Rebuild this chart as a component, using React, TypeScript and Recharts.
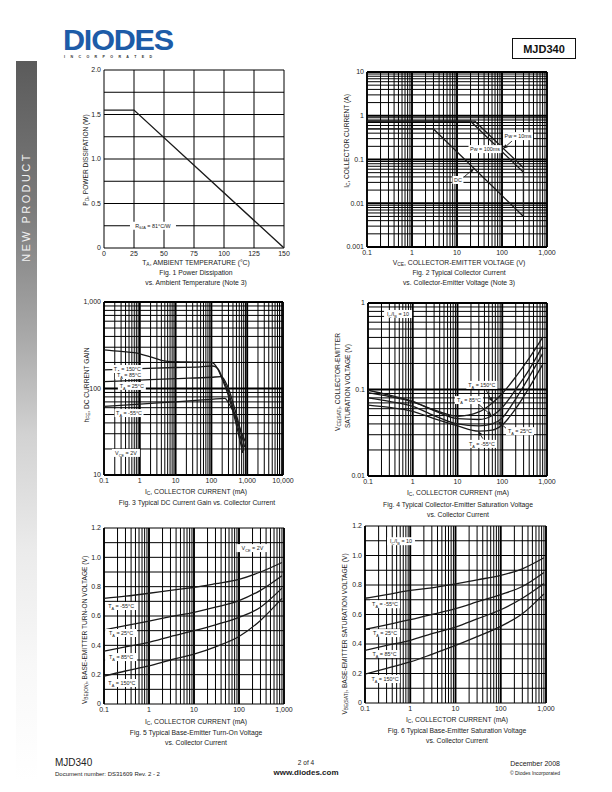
import React from 'react';
import { LineChart, Line, XAxis, YAxis, ReferenceLine, ReferenceDot } from 'recharts';

const FONT = '"Liberation Sans", Arial, Helvetica, sans-serif';
const INK = '#1a1a1a';

// ---- Fig. 1 power dissipation ----
const FIG1_TEMP = [0, 25, 150];
const FIG1_PD = [1.55, 1.55, 0];
const FIG1_X_TICKS = [0, 25, 50, 75, 100, 125, 150];
const FIG1_Y_TICKS = [0, 0.5, 1.0, 1.5, 2.0];
const FIG1_Y_GRID = [0, 0.25, 0.5, 0.75, 1, 1.25, 1.5, 1.75, 2];

// ---- Fig. 2 safe operating area ----
const FIG2_DC_V = [0.1, 3, 300];
const FIG2_DC_I = [0.5, 0.5, 0.005];
const FIG2_100MS_V = [0.1, 20, 300];
const FIG2_100MS_I = [0.75, 0.75, 0.051];
const FIG2_10MS_V = [0.1, 25, 300, 300];
const FIG2_10MS_I = [0.75, 0.75, 0.065, 0.005];
const FIG2_X_TICKS = [0.1, 1, 10, 100, 1000];
const FIG2_Y_TICKS = [0.001, 0.01, 0.1, 1, 10];

// ---- Fig. 3 hFE vs Ic ----
const FIG3_IC_150 = [0.1, 0.3, 1, 2, 4, 10, 30, 100, 150, 200, 300, 450, 750];
const FIG3_HFE_150 = [280, 268, 252, 232, 212, 204, 202, 200, 168, 128, 82, 45, 18];
const FIG3_IC_85 = [0.1, 1, 10, 50, 110, 150, 200, 300, 450, 800];
const FIG3_HFE_85 = [164, 170, 175, 178, 182, 170, 135, 90, 50, 19];
const FIG3_IC_25 = [0.1, 1, 10, 100, 190, 250, 300, 450, 850];
const FIG3_HFE_25 = [120, 125, 130, 135, 137, 118, 100, 58, 21];
const FIG3_IC_M55 = [0.1, 1, 10, 100, 240, 300, 450, 650, 900];
const FIG3_HFE_M55 = [62, 66, 70, 75, 77, 68, 50, 33, 24];
const FIG3_X_TICKS = [0.1, 1, 10, 100, 1000, 10000];
const FIG3_Y_TICKS = [10, 100, 1000];

// ---- Fig. 4 Vce(sat) vs Ic ----
const FIG4_IC = [0.1, 0.3, 1, 3, 10, 30, 60, 100, 200, 400, 800];
const FIG4_150 = [0.092, 0.083, 0.072, 0.058, 0.049, 0.055, 0.07, 0.09, 0.14, 0.23, 0.4];
const FIG4_85 = [0.098, 0.086, 0.073, 0.057, 0.046, 0.045, 0.05, 0.062, 0.1, 0.17, 0.32];
const FIG4_25 = [0.08, 0.073, 0.064, 0.05, 0.04, 0.038, 0.04, 0.047, 0.078, 0.14, 0.26];
const FIG4_M55 = [0.066, 0.062, 0.056, 0.046, 0.038, 0.033, 0.034, 0.039, 0.06, 0.105, 0.195];
const FIG4_X_TICKS = [0.1, 1, 10, 100, 1000];
const FIG4_Y_TICKS = [0.01, 0.1, 1];

// ---- Fig. 5 Vbe(on) vs Ic ----
const FIG56_IC = [0.1, 0.3, 1, 3, 10, 30, 100, 300, 900];
const FIG5_M55 = [0.72, 0.735, 0.755, 0.775, 0.795, 0.82, 0.85, 0.9, 0.965];
const FIG5_25 = [0.505, 0.535, 0.565, 0.595, 0.625, 0.66, 0.705, 0.775, 0.875];
const FIG5_85 = [0.36, 0.39, 0.42, 0.46, 0.5, 0.54, 0.59, 0.66, 0.79];
const FIG5_150 = [0.19, 0.225, 0.26, 0.3, 0.34, 0.39, 0.46, 0.57, 0.72];

// ---- Fig. 6 Vbe(sat) vs Ic ----
const FIG6_M55 = [0.71, 0.735, 0.763, 0.78, 0.808, 0.835, 0.865, 0.91, 0.985];
const FIG6_25 = [0.5, 0.53, 0.565, 0.6, 0.64, 0.685, 0.735, 0.79, 0.885];
const FIG6_85 = [0.357, 0.39, 0.425, 0.47, 0.515, 0.57, 0.632, 0.71, 0.81];
const FIG6_150 = [0.195, 0.235, 0.278, 0.33, 0.39, 0.45, 0.52, 0.605, 0.74];
const FIG56_X_TICKS = [0.1, 1, 10, 100, 1000];
const FIG56_Y_TICKS = [0, 0.2, 0.4, 0.6, 0.8, 1.0, 1.2];
const FIG56_Y_GRID = [0, 0.1, 0.2, 0.3, 0.4, 0.5, 0.6, 0.7, 0.8, 0.9, 1.0, 1.1, 1.2];

// annotation boxes [x, y, text, width]
const FIG1_NOTES: [number, number, string, number][] = [[40.8, 0.25, 'R_{θJA} = 81°C/W', 46]];
const FIG2_NOTES: [number, number, string, number][] = [
  [227, 0.343, 'Pw = 10ms', 30],
  [41.9, 0.173, 'Pw = 100ms', 33],
  [10.5, 0.034, 'DC', 11],
];
const FIG2_ARROWS: [number, number, number, number][] = [
  [166, 0.263, 106, 0.177],
  [48, 0.185, 75, 0.2],
  [13.5, 0.038, 24, 0.0625],
];
const FIG3_NOTES: [number, number, string, number][] = [
  [0.45, 168, 'T_{A} = 150°C', 30],
  [0.5, 143, 'T_{A} = 85°C', 28],
  [0.6, 107, 'T_{A} = 25°C', 28],
  [0.5, 52, 'T_{A} = -55°C', 29],
  [0.41, 18, 'V_{CE} = 2V', 28],
];
const FIG4_NOTES: [number, number, string, number][] = [
  [0.47, 0.746, 'I_{C}/I_{B} = 10', 28],
  [35, 0.113, 'T_{A} = 150°C', 31],
  [18, 0.0755, 'T_{A} = 85°C', 28],
  [249, 0.033, 'T_{A} = 25°C', 28],
  [35, 0.0235, 'T_{A} = -55°C', 30],
];
const FIG4_ARROWS: [number, number, number, number][] = [
  [43, 0.1, 60, 0.072],
  [29, 0.068, 58, 0.05],
  [127, 0.035, 80, 0.043],
  [37, 0.027, 29, 0.033],
];
const FIG5_NOTES: [number, number, string, number][] = [
  [199, 1.063, 'V_{CE} = 2V', 32],
  [0.24, 0.668, 'T_{A} = -55°C', 32],
  [0.24, 0.484, 'T_{A} = 25°C', 32],
  [0.24, 0.32, 'T_{A} = 85°C', 32],
  [0.25, 0.143, 'T_{A} = 150°C', 32],
];
const FIG6_NOTES: [number, number, string, number][] = [
  [0.625, 1.097, 'I_{C}/I_{B} = 10', 28],
  [0.277, 0.67, 'T_{A} = -55°C', 30],
  [0.277, 0.474, 'T_{A} = 25°C', 30],
  [0.27, 0.332, 'T_{A} = 85°C', 30],
  [0.277, 0.1625, 'T_{A} = 150°C', 30],
];

const pts = (xs: number[], ys: number[]) => xs.map((x, i) => ({ x, y: ys[i] }));

function logGrid(lo: number, hi: number) {
  const minor: number[] = [];
  const major: number[] = [];
  for (let e = Math.round(Math.log10(lo)); e <= Math.round(Math.log10(hi)); e++) {
    const d = Number(Math.pow(10, e).toPrecision(6));
    major.push(d);
    if (d >= hi) break;
    for (let m = 2; m <= 9; m++) minor.push(Number((m * d).toPrecision(6)));
  }
  return { minor, major };
}

const fmtLog = (v: number) => (v >= 1000 ? v.toLocaleString('en-US') : String(v));
const fmtLin = (v: number) => (v === 0 ? '0' : Number.isInteger(v) && v > 10 ? String(v) : v.toFixed(1));

function parseRich(s: string) {
  const out: { t: string; sub: boolean }[] = [];
  const re = /_\{([^}]*)\}/g;
  let last = 0;
  let m: RegExpExecArray | null;
  while ((m = re.exec(s))) {
    if (m.index > last) out.push({ t: s.slice(last, m.index), sub: false });
    out.push({ t: m[1], sub: true });
    last = re.lastIndex;
  }
  if (last < s.length) out.push({ t: s.slice(last), sub: false });
  return out;
}

function SvgRich({ x, y, text, size }: { x: number; y: number; text: string; size: number }) {
  const parts = parseRich(text);
  let shifted = false;
  return (
    <text x={x} y={y} textAnchor="middle" fontSize={size} fontFamily={FONT} fill={INK}>
      {parts.map((p, i) => {
        let dy = 0;
        if (p.sub && !shifted) { dy = size * 0.3; shifted = true; }
        else if (!p.sub && shifted) { dy = -size * 0.3; shifted = false; }
        return (
          <tspan key={i} dy={dy} fontSize={p.sub ? size * 0.72 : size}>{p.t}</tspan>
        );
      })}
    </text>
  );
}

const boxLabel = (text: string, w: number) => (p: any) => (
  <g>
    <rect x={p.cx - w / 2} y={p.cy - 4} width={w} height={8} fill="#fff" />
    <SvgRich x={p.cx} y={p.cy + 2} text={text} size={5.4} />
  </g>
);

const arrowShape = (p: any) => {
  const { x1, y1, x2, y2 } = p;
  const a = Math.atan2(y2 - y1, x2 - x1);
  const L = 4.5;
  const W = 1.9;
  const bx = x2 - L * Math.cos(a);
  const by = y2 - L * Math.sin(a);
  const nx = -Math.sin(a) * W;
  const ny = Math.cos(a) * W;
  return (
    <g>
      <line x1={x1} y1={y1} x2={bx} y2={by} stroke={INK} strokeWidth={0.9} />
      <polygon points={`${x2},${y2} ${bx + nx},${by + ny} ${bx - nx},${by - ny}`} fill={INK} />
    </g>
  );
};

function Rich({ text }: { text: string }) {
  return (
    <>
      {parseRich(text).map((p, i) =>
        p.sub ? (
          <sub key={i} style={{ fontSize: '72%', verticalAlign: '-0.25em', lineHeight: 0 }}>{p.t}</sub>
        ) : (
          <span key={i}>{p.t}</span>
        )
      )}
    </>
  );
}

type TxtProps = {
  x: number; y: number; text: string; size?: number; anchor?: 'start' | 'middle' | 'end';
  rotate?: boolean; weight?: number; color?: string; spacing?: number;
};

function Txt({ x, y, text, size = 7, anchor = 'middle', rotate = false, weight = 400, color = '#222', spacing = 0 }: TxtProps) {
  const tx = anchor === 'start' ? '0' : anchor === 'end' ? '-100%' : '-50%';
  return (
    <div
      style={{
        position: 'absolute', left: x, top: y, whiteSpace: 'nowrap', lineHeight: 1,
        fontSize: size, fontWeight: weight, color, letterSpacing: spacing, fontFamily: FONT,
        transform: `translate(${tx}, -50%)${rotate ? ' rotate(-90deg)' : ''}`,
        transformOrigin: 'center',
      }}
    >
      <Rich text={text} />
    </div>
  );
}

type Box = { l: number; t: number; w: number; h: number };
type AxisSpec = {
  log: boolean; domain: [number, number]; ticks: number[]; fmt: (v: number) => string;
  thin: number[]; bold: number[];
};

const YW = 30;
const XH = 14;
const MT = 5;
const MR = 16;
const tickStyle = { fontSize: 7, fill: '#222', fontFamily: FONT };

function Plot({ box, x, y, notes = [], arrows = [], children }: {
  box: Box; x: AxisSpec; y: AxisSpec; notes?: [number, number, string, number][];
  arrows?: [number, number, number, number][]; children: React.ReactNode;
}) {
  return (
    <div style={{ position: 'absolute', left: box.l - YW, top: box.t - MT }}>
      <LineChart width={box.w + YW + MR} height={box.h + MT + XH} margin={{ top: MT, right: MR, left: 0, bottom: 0 }}>
        <XAxis
          type="number" dataKey="x" scale={x.log ? 'log' : 'linear'} domain={x.domain} ticks={x.ticks}
          tickFormatter={x.fmt} interval={0} allowDataOverflow axisLine={false} tickLine={false}
          tickSize={0} tickMargin={3} height={XH} tick={tickStyle}
        />
        <YAxis
          type="number" dataKey="y" scale={y.log ? 'log' : 'linear'} domain={y.domain} ticks={y.ticks}
          tickFormatter={y.fmt} interval={0} allowDataOverflow axisLine={false} tickLine={false}
          tickSize={0} tickMargin={3} width={YW} tick={tickStyle}
        />
        {x.thin.map((v) => <ReferenceLine key={'xt' + v} x={v} stroke="#000" strokeWidth={1} />)}
        {y.thin.map((v) => <ReferenceLine key={'yt' + v} y={v} stroke="#000" strokeWidth={1} />)}
        {x.bold.map((v) => <ReferenceLine key={'xb' + v} x={v} stroke="#000" strokeWidth={1.9} />)}
        {y.bold.map((v) => <ReferenceLine key={'yb' + v} y={v} stroke="#000" strokeWidth={1.9} />)}
        {children}
        {arrows.map((a, i) => (
          <ReferenceLine key={'ar' + i} segment={[{ x: a[0], y: a[1] }, { x: a[2], y: a[3] }]} shape={arrowShape} />
        ))}
        {notes.map((n, i) => (
          <ReferenceDot key={'nt' + i} x={n[0]} y={n[1]} r={0} shape={boxLabel(n[2], n[3])} />
        ))}
      </LineChart>
    </div>
  );
}

const curve = (data: { x: number; y: number }[], key: string, type: 'linear' | 'monotone' = 'monotone') => (
  <Line
    key={key} data={data} dataKey="y" type={type} dot={false} activeDot={false}
    stroke={INK} strokeWidth={1.3} isAnimationActive={false}
  />
);

function logAxis(domain: [number, number], ticks: number[]): AxisSpec {
  const g = logGrid(domain[0], domain[1]);
  return { log: true, domain, ticks, fmt: fmtLog, thin: g.minor, bold: g.major };
}

export default function App() {
  const fig1X: AxisSpec = { log: false, domain: [0, 150], ticks: FIG1_X_TICKS, fmt: fmtLin, thin: FIG1_X_TICKS, bold: [] };
  const fig1Y: AxisSpec = { log: false, domain: [0, 2], ticks: FIG1_Y_TICKS, fmt: fmtLin, thin: FIG1_Y_GRID, bold: [] };
  const fig56Y: AxisSpec = { log: false, domain: [0, 1.2], ticks: FIG56_Y_TICKS, fmt: fmtLin, thin: FIG56_Y_GRID, bold: [] };

  return (
    <div style={{ position: 'absolute', left: 0, top: 0, width: 612, height: 792, background: '#fff', overflow: 'hidden', fontFamily: FONT }}>
      {/* side bar */}
      <div style={{
        position: 'absolute', left: 16, top: 61, width: 21, height: 719,
        background: 'linear-gradient(to bottom, #5b5b5b 0%, #7a7a7a 20%, #a8a8a8 38%, #d2d2d2 52%, #ebebeb 68%, #f8f8f8 84%, #ffffff 100%)',
      }} />
      <Txt x={26} y={207} text="NEW PRODUCT" size={11} rotate color="#f2f2f2" spacing={2.4} />

      {/* logo */}
      <div style={{
        position: 'absolute', left: 63, top: 25, fontSize: 30, fontWeight: 700, color: '#1d5ca8',
        fontFamily: FONT, letterSpacing: -1.2, lineHeight: 1, transform: 'scaleX(1.02)', transformOrigin: 'left',
      }}>DIODES</div>
      <Txt x={64} y={57.5} text="I N C O R P O R A T E D" size={3.6} anchor="start" weight={700} color="#333" spacing={2.2} />

      <div style={{
        position: 'absolute', left: 512, top: 38, width: 62, height: 19, border: '1.4px solid #111',
        display: 'flex', alignItems: 'center', justifyContent: 'center', fontSize: 11, fontWeight: 700, fontFamily: FONT, color: '#111',
      }}>MJD340</div>

      {/* Fig. 1 */}
      <Plot box={{ l: 104, t: 70, w: 180, h: 178 }} x={fig1X} y={fig1Y} notes={FIG1_NOTES}>
        {curve(pts(FIG1_TEMP, FIG1_PD), 'pd', 'linear')}
      </Plot>
      <Txt x={86} y={160} text="P_{D}, POWER DISSIPATION (W)" size={6.6} rotate />
      <Txt x={196} y={263} text="T_{A}, AMBIENT TEMPERATURE (°C)" size={6.8} />
      <Txt x={196} y={273} text="Fig. 1 Power Dissipation" size={6.8} />
      <Txt x={196} y={283} text="vs. Ambient Temperature (Note 3)" size={6.8} />

      {/* Fig. 2 */}
      <Plot box={{ l: 367, t: 72, w: 180, h: 175 }} x={logAxis([0.1, 1000], FIG2_X_TICKS)} y={logAxis([0.001, 10], FIG2_Y_TICKS)} notes={FIG2_NOTES} arrows={FIG2_ARROWS}>
        {curve(pts(FIG2_DC_V, FIG2_DC_I), 'dc', 'linear')}
        {curve(pts(FIG2_100MS_V, FIG2_100MS_I), 'p100', 'linear')}
        {curve(pts(FIG2_10MS_V, FIG2_10MS_I), 'p10', 'linear')}
      </Plot>
      <Txt x={347} y={141} text="I_{C}, COLLECTOR CURRENT (A)" size={6.6} rotate />
      <Txt x={459} y={263} text="V_{CE}, COLLECTOR-EMITTER VOLTAGE (V)" size={6.8} />
      <Txt x={459} y={273} text="Fig. 2 Typical Collector Current" size={6.8} />
      <Txt x={459} y={283} text="vs. Collector-Emitter Voltage (Note 3)" size={6.8} />

      {/* Fig. 3 */}
      <Plot box={{ l: 104, t: 302, w: 179, h: 173 }} x={logAxis([0.1, 10000], FIG3_X_TICKS)} y={logAxis([10, 1000], FIG3_Y_TICKS)} notes={FIG3_NOTES}>
        {curve(pts(FIG3_IC_150, FIG3_HFE_150), 't150')}
        {curve(pts(FIG3_IC_85, FIG3_HFE_85), 't85')}
        {curve(pts(FIG3_IC_25, FIG3_HFE_25), 't25')}
        {curve(pts(FIG3_IC_M55, FIG3_HFE_M55), 'tm55')}
      </Plot>
      <Txt x={87} y={385} text="h_{FE}, DC CURRENT GAIN" size={6.6} rotate />
      <Txt x={196} y={492} text="I_{C}, COLLECTOR CURRENT (mA)" size={6.8} />
      <Txt x={197} y={503} text="Fig. 3 Typical DC Current Gain vs. Collector Current" size={6.8} />

      {/* Fig. 4 */}
      <Plot box={{ l: 368, t: 303, w: 179, h: 173 }} x={logAxis([0.1, 1000], FIG4_X_TICKS)} y={logAxis([0.01, 1], FIG4_Y_TICKS)} notes={FIG4_NOTES} arrows={FIG4_ARROWS}>
        {curve(pts(FIG4_IC, FIG4_150), 's150')}
        {curve(pts(FIG4_IC, FIG4_85), 's85')}
        {curve(pts(FIG4_IC, FIG4_25), 's25')}
        {curve(pts(FIG4_IC, FIG4_M55), 'sm55')}
      </Plot>
      <Txt x={338} y={382} text="V_{CE(SAT)}, COLLECTOR-EMITTER" size={6.6} rotate />
      <Txt x={348} y={386} text="SATURATION VOLTAGE (V)" size={6.6} rotate />
      <Txt x={458} y={493} text="I_{C}, COLLECTOR CURRENT (mA)" size={6.8} />
      <Txt x={458} y={505} text="Fig. 4 Typical Collector-Emitter Saturation Voltage" size={6.8} />
      <Txt x={458} y={515} text="vs. Collector Current" size={6.8} />

      {/* Fig. 5 */}
      <Plot box={{ l: 104, t: 528, w: 180, h: 176 }} x={logAxis([0.1, 1000], FIG56_X_TICKS)} y={fig56Y} notes={FIG5_NOTES}>
        {curve(pts(FIG56_IC, FIG5_M55), 'b-55')}
        {curve(pts(FIG56_IC, FIG5_25), 'b25')}
        {curve(pts(FIG56_IC, FIG5_85), 'b85')}
        {curve(pts(FIG56_IC, FIG5_150), 'b150')}
      </Plot>
      <Txt x={85} y={630} text="V_{BE(ON)}, BASE-EMITTER TURN-ON VOLTAGE (V)" size={6.6} rotate />
      <Txt x={196} y={722} text="I_{C}, COLLECTOR CURRENT (mA)" size={6.8} />
      <Txt x={196} y={733} text="Fig. 5 Typical Base-Emitter Turn-On Voltage" size={6.8} />
      <Txt x={196} y={743} text="vs. Collector Current" size={6.8} />

      {/* Fig. 6 */}
      <Plot box={{ l: 365, t: 526, w: 181, h: 177 }} x={logAxis([0.1, 1000], FIG56_X_TICKS)} y={fig56Y} notes={FIG6_NOTES}>
        {curve(pts(FIG56_IC, FIG6_M55), 'v-55')}
        {curve(pts(FIG56_IC, FIG6_25), 'v25')}
        {curve(pts(FIG56_IC, FIG6_85), 'v85')}
        {curve(pts(FIG56_IC, FIG6_150), 'v150')}
      </Plot>
      <Txt x={345} y={634} text="V_{BE(SAT)}, BASE-EMITTER SATURATION VOLTAGE (V)" size={6.6} rotate />
      <Txt x={457} y={720} text="I_{C}, COLLECTOR CURRENT (mA)" size={6.8} />
      <Txt x={457} y={731} text="Fig. 6 Typical Base-Emitter Saturation Voltage" size={6.8} />
      <Txt x={457} y={741} text="vs. Collector Current" size={6.8} />

      {/* footer */}
      <Txt x={55} y={763} text="MJD340" size={10} anchor="start" color="#222" />
      <Txt x={55} y={774} text="Document number: DS31609 Rev. 2 - 2" size={6} anchor="start" />
      <Txt x={306} y={763} text="2 of 4" size={6.5} />
      <Txt x={306} y={773} text="www.diodes.com" size={8} weight={700} />
      <Txt x={560} y={763} text="December 2008" size={7} anchor="end" />
      <Txt x={560} y={773} text="© Diodes Incorporated" size={5} anchor="end" />
    </div>
  );
}
